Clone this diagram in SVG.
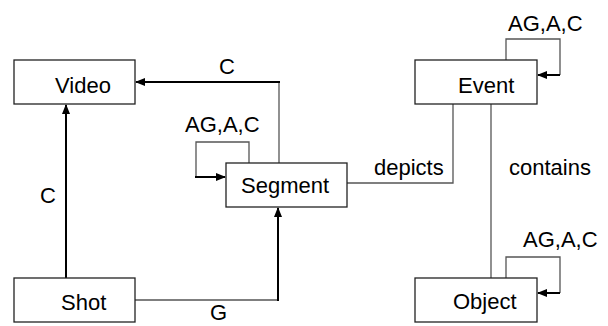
<svg xmlns="http://www.w3.org/2000/svg" width="608" height="326" viewBox="0 0 608 326">
<style>
.box{fill:#fff;stroke:#222;stroke-width:1.3}
.t{font-family:"Liberation Sans",Arial,sans-serif;font-size:22px;fill:#000}
.thin{fill:none;stroke:#555;stroke-width:1.3}
.thick{fill:none;stroke:#000;stroke-width:2;marker-end:url(#ah)}
</style>
<defs>
<marker id="ah" viewBox="0 0 10 8" refX="9" refY="4" markerWidth="10" markerHeight="8" markerUnits="userSpaceOnUse" orient="auto">
<path d="M0,0 L10,4 L0,8 Z" fill="#000"/>
</marker>
</defs>
<rect width="608" height="326" fill="#fff"/>
<g id="connectors">
<line class="thick" x1="66" y1="278" x2="66" y2="105"/>
<text class="t" x="40" y="203">C</text>
<polyline class="thin" points="279,163 279,82"/>
<line class="thick" x1="280" y1="82" x2="136" y2="82"/>
<text class="t" x="219" y="74">C</text>
<polyline class="thin" points="135,300 278,300"/>
<line class="thick" x1="278" y1="301" x2="278" y2="208"/>
<text class="t" x="210" y="320">G</text>
<polyline class="thin" points="249,163 249,142 196,142 196,177"/>
<line class="thick" x1="195" y1="177" x2="225" y2="177"/>
<text class="t" x="185" y="132">AG,A,C</text>
<polyline class="thin" points="347,183 453,183 453,104"/>
<text class="t" x="374" y="175">depicts</text>
<line class="thin" x1="491" y1="104" x2="491" y2="278"/>
<text class="t" x="509" y="175">contains</text>
<polyline class="thin" points="506,60 506,39 560,39 560,75"/>
<line class="thick" x1="560" y1="75" x2="538" y2="75" stroke-width="1.5"/>
<text class="t" x="508" y="31">AG,A,C</text>
<polyline class="thin" points="506,278 506,257 560,257 560,293"/>
<line class="thick" x1="560" y1="293" x2="538" y2="293" stroke-width="1.5"/>
<text class="t" x="523" y="247">AG,A,C</text>
</g>
<g id="video"><rect class="box" x="14" y="60" width="121" height="44"/><text class="t" x="55" y="93">Video</text></g>
<g id="segment"><rect class="box" x="226" y="163" width="121" height="44"/><text class="t" x="241" y="193">Segment</text></g>
<g id="shot"><rect class="box" x="14" y="278" width="121" height="44"/><text class="t" x="61" y="310">Shot</text></g>
<g id="event"><rect class="box" x="415" y="60" width="122" height="44"/><text class="t" x="458" y="93">Event</text></g>
<g id="object"><rect class="box" x="415" y="278" width="122" height="44"/><text class="t" x="453" y="309">Object</text></g>
</svg>
